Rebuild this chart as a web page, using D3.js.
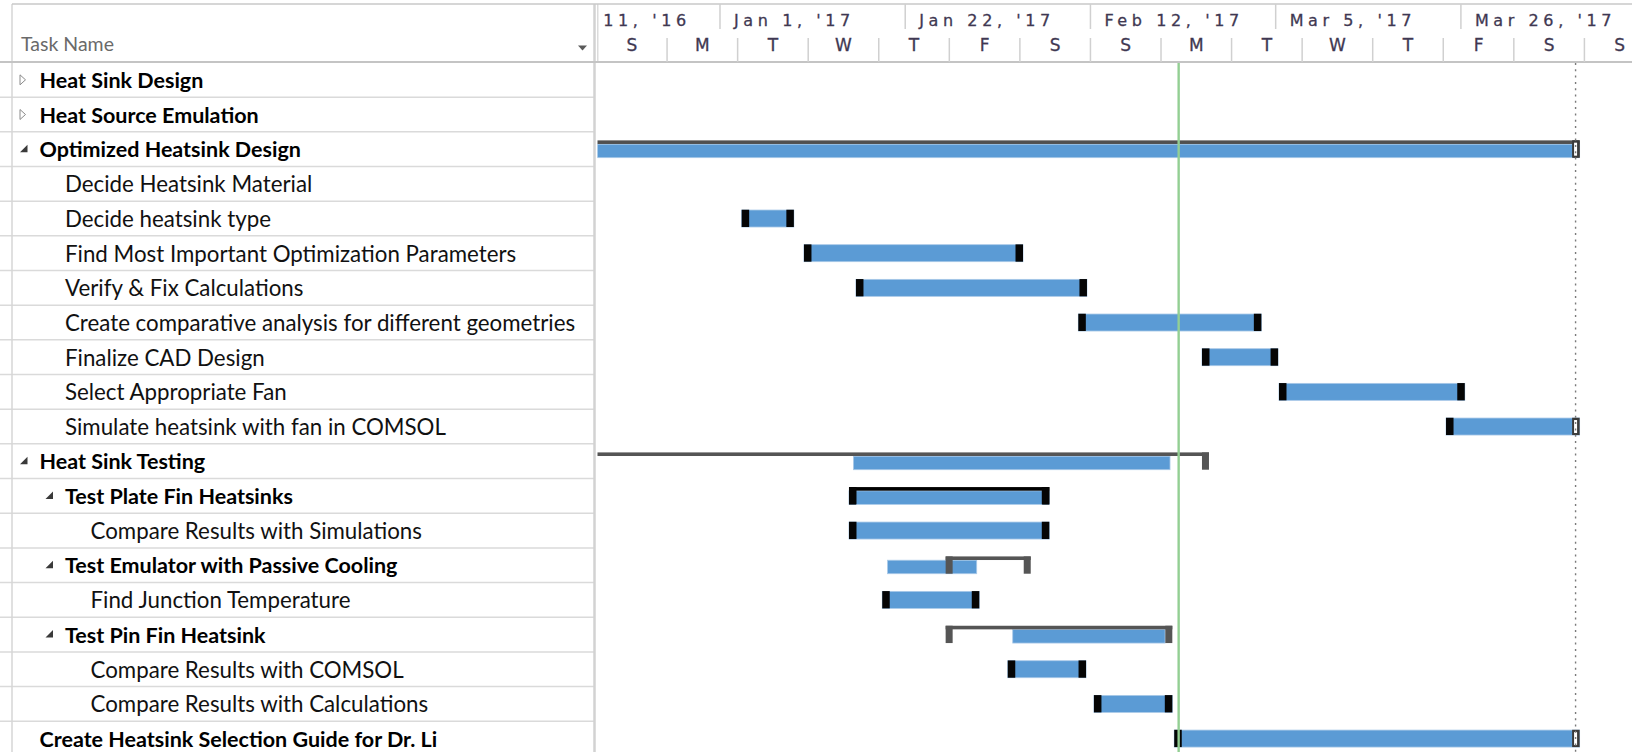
<!DOCTYPE html>
<html>
<head>
<meta charset="utf-8">
<script src="https://cdn.jsdelivr.net/npm/d3@7"></script>
<style>
	body {margin: 0; background: #fff; overflow: hidden;}
	svg {display: block;}
	.task {font-family: Lato, "Noto Sans", sans-serif; font-size: 22.3px; fill: #111;}
	.task.bold {font-size: 21.5px; font-weight: 700; fill: #000;}
	.tier {font-family: "DejaVu Sans", Verdana, sans-serif; font-size: 16px; fill: #3f3852;
		stroke: #3f3852; stroke-width: 0.3px;}
</style>
</head>
<body>
<svg width="1632" height="752"></svg>
<script>
'use strict';
// DOM references and layout globals
let eSvg = d3.select("svg"),
	dWidth = +eSvg.attr("width"),
	dHeight = +eSvg.attr("height")

let dRowTop = 62.5, dRowH = 34.67, dTableW = 594.5

// task table
const taskNames = [
	"Heat Sink Design",
	"Heat Source Emulation",
	"Optimized Heatsink Design",
	"Decide Heatsink Material",
	"Decide heatsink type",
	"Find Most Important Optimization Parameters",
	"Verify & Fix Calculations",
	"Create comparative analysis for different geometries",
	"Finalize CAD Design",
	"Select Appropriate Fan",
	"Simulate heatsink with fan in COMSOL",
	"Heat Sink Testing",
	"Test Plate Fin Heatsinks",
	"Compare Results with Simulations",
	"Test Emulator with Passive Cooling",
	"Find Junction Temperature",
	"Test Pin Fin Heatsink",
	"Compare Results with COMSOL",
	"Compare Results with Calculations",
	"Create Heatsink Selection Guide for Dr. Li"]
const taskLevels = [0,0,0,1,1,1,1,1,1,1,1,0,1,2,1,2,1,2,2,0]
const taskBold = [1,1,1,0,0,0,0,0,0,0,0,1,1,0,1,0,1,0,0,1]
// c = collapsed, e = expanded, "" = leaf
const taskToggle = ["c","c","e","","","","","","","","","e","e","","e","","e","","",""]
const taskSummary = [1,1,1,0,0,0,0,0,0,0,0,1,1,0,1,0,1,0,0,0]

// blue bars
const barStart = [null, null, "2016-12-12 00:00", null, "2017-01-03 11:00", "2017-01-10 12:30",
	"2017-01-16 10:00", "2017-02-10 15:00", "2017-02-24 15:30", "2017-03-05 09:00", "2017-03-24 07:30",
	"2017-01-16 03:00", "2017-01-15 15:00", "2017-01-15 15:00", "2017-01-20 00:00", "2017-01-19 09:30",
	"2017-02-03 04:30", "2017-02-02 15:00", "2017-02-12 09:30", "2017-02-21 12:00"]
const barFinish = [null, null, "2017-04-08 11:00", null, "2017-01-09 09:00", "2017-02-04 08:30",
	"2017-02-11 14:30", "2017-03-03 09:00", "2017-03-05 06:30", "2017-03-26 10:30", "2017-04-08 11:00",
	"2017-02-21 00:30", "2017-02-07 08:00", "2017-02-07 08:00", "2017-01-30 02:30", "2017-01-30 09:30",
	"2017-02-20 11:00", "2017-02-11 12:00", "2017-02-21 06:45", "2017-04-08 11:00"]
// end shapes: b = black, h = hollow (at finish line), "" = none
const capStart = ["","","","","b","b","b","b","b","b","b","","b","b","","b","","b","b","b"]
const capEnd = ["","","h","","b","b","b","b","b","b","h","","b","b","","b","","b","b","h"]

// summary brackets
const bracketStart = [null, null, "2016-12-12 00:00", null, null, null, null, null, null, null, null,
	"2016-12-12 00:00", "2017-01-15 15:00", null, "2017-01-26 14:00", null, "2017-01-26 14:00", null, null, null]
const bracketFinish = [null, null, "2017-04-08 11:00", null, null, null, null, null, null, null, null,
	"2017-02-25 10:30", "2017-02-07 08:00", null, "2017-02-05 05:30", null, "2017-02-21 06:45", null, null, null]
const bracketColor = [null, null, "#505050", null, null, null, null, null, null, null, null,
	"#555555", "#000000", null, "#555555", null, "#555555", null, null, null]

// timescale
const topTierDates = ["2016-12-11", "2017-01-01", "2017-01-22", "2017-02-12", "2017-03-05", "2017-03-26"]
const bottomTierDates = ["2016-12-18", "2016-12-26", "2017-01-03", "2017-01-11", "2017-01-19", "2017-01-27",
	"2017-02-04", "2017-02-12", "2017-02-20", "2017-02-28", "2017-03-08", "2017-03-16", "2017-03-24",
	"2017-04-01", "2017-04-09"]
const bottomTierLabels = ["S","M","T","W","T","F","S","S","M","T","W","T","F","S","S"]
const todayDate = "2017-02-22 00:00"
const finishDate = "2017-04-08 00:00"

let pTime = d3.timeParse("%Y-%m-%d %H:%M")
let pDay = d3.timeParse("%Y-%m-%d")
let fTop = d3.timeFormat("%b %-d, '%y")

let xScale = d3.scaleTime()
	.domain([pDay("2016-12-18"), pDay("2017-04-14")])
	.range([596.5, 1628.5])

function rowMid(i) {return dRowTop + (i + 0.5) * dRowH}

let tRows = taskNames.map((n, i) => {return {i: i, name: n}})

eSvg.append("rect").attr("width", dWidth).attr("height", dHeight).attr("fill", "#fff")

eSvg.append("defs").append("clipPath").attr("id", "chartClip")
	.append("rect").attr("x", 597.5).attr("y", 0).attr("width", dWidth - 597.5).attr("height", dHeight)

// ---- table grid
let eGrid = eSvg.append("g").attr("class", "grid")
eGrid.selectAll("line.row")
	.data(d3.range(1, taskNames.length + 1))
	.enter().append("line")
	.attr("class", "row")
	.attr("x1", 0).attr("x2", dTableW)
	.attr("y1", d => {return dRowTop + d * dRowH})
	.attr("y2", d => {return dRowTop + d * dRowH})
	.attr("stroke", "#dadada").attr("stroke-width", 1.5)

eGrid.append("line").attr("x1", 12).attr("x2", 12).attr("y1", 4).attr("y2", dHeight)
	.attr("stroke", "#d6d6d6").attr("stroke-width", 1.5)
eGrid.append("line").attr("x1", dTableW).attr("x2", dTableW).attr("y1", 4).attr("y2", dHeight)
	.attr("stroke", "#d2d2d2").attr("stroke-width", 2.5)
eGrid.append("line").attr("x1", 597.8).attr("x2", 597.8).attr("y1", 4).attr("y2", 62)
	.attr("stroke", "#d2d2d2").attr("stroke-width", 1.2)
eGrid.append("line").attr("x1", 12).attr("x2", dWidth).attr("y1", 4).attr("y2", 4)
	.attr("stroke", "#c8c8c8").attr("stroke-width", 1.5)
eGrid.append("line").attr("x1", 0).attr("x2", dWidth).attr("y1", 62).attr("y2", 62)
	.attr("stroke", "#c4c4c4").attr("stroke-width", 2)

// ---- table header
eSvg.append("text").attr("x", 21).attr("y", 43)
	.attr("dominant-baseline", "central")
	.style("font-family", "Lato, sans-serif").style("font-size", "19.5px").attr("fill", "#6a6a6a")
	.text("Task Name")
eSvg.append("path").attr("d", "M578,45.5 L587,45.5 L582.5,50.5 Z").attr("fill", "#5a5a5a")

// ---- task names
function textX(d) {return 39.5 + taskLevels[d.i] * 25.5}

let eTasks = eSvg.append("g").attr("class", "tasks")
eTasks.selectAll("text")
	.data(tRows)
	.enter().append("text")
	.attr("class", d => {return taskBold[d.i] ? "task bold" : "task"})
	.attr("x", textX)
	.attr("y", d => {return rowMid(d.i)})
	.attr("dominant-baseline", "central")
	.text(d => {return d.name})

// outline toggles
eTasks.selectAll("path")
	.data(tRows.filter(d => {return taskToggle[d.i] !== ""}))
	.enter().append("path")
	.attr("d", d => {
		let x = textX(d) - 19.5, y = rowMid(d.i)
		if (taskToggle[d.i] === "c")
			return `M${x},${y-5} L${x+5.5},${y} L${x},${y+5} Z`
		return `M${x+7.5},${y-4.5} L${x+7.5},${y+3} L${x},${y+3} Z`})
	.attr("fill", d => {return taskToggle[d.i] === "c" ? "#fff" : "#3a3a3a"})
	.attr("stroke", d => {return taskToggle[d.i] === "c" ? "#8a8a8a" : "none"})
	.attr("stroke-width", 1)

// ---- timescale header
let eHead = eSvg.append("g").attr("clip-path", "url(#chartClip)")
eHead.selectAll("line.top")
	.data(topTierDates)
	.enter().append("line")
	.attr("class", "top")
	.attr("x1", d => {return xScale(pDay(d))}).attr("x2", d => {return xScale(pDay(d))})
	.attr("y1", 4).attr("y2", 29)
	.attr("stroke", "#d0d0d0").attr("stroke-width", 1.5)
eHead.selectAll("text.top")
	.data(topTierDates)
	.enter().append("text")
	.attr("class", "tier top")
	.attr("x", d => {return xScale(pDay(d)) + 14})
	.attr("y", 20)
	.attr("dominant-baseline", "central")
	.style("letter-spacing", "4.6px")
	.text(d => {return fTop(pDay(d))})

eHead.selectAll("line.bot")
	.data(bottomTierDates.slice(1))
	.enter().append("line")
	.attr("class", "bot")
	.attr("x1", d => {return xScale(pDay(d))}).attr("x2", d => {return xScale(pDay(d))})
	.attr("y1", 38).attr("y2", 62)
	.attr("stroke", "#d0d0d0").attr("stroke-width", 1.5)
eHead.selectAll("text.bot")
	.data(bottomTierDates)
	.enter().append("text")
	.attr("class", "tier bot")
	.attr("x", d => {return (xScale(pDay(d)) + xScale(d3.timeDay.offset(pDay(d), 8))) / 2})
	.attr("y", 45)
	.attr("text-anchor", "middle")
	.attr("dominant-baseline", "central")
	.style("font-size", "17px")
	.text((d, i) => {return bottomTierLabels[i]})

// ---- gantt bars
let eChart = eSvg.append("g").attr("clip-path", "url(#chartClip)")
let tBars = tRows.filter(d => {return barStart[d.i] !== null})
let tBrackets = tRows.filter(d => {return bracketStart[d.i] !== null})

eChart.selectAll("rect.bar")
	.data(tBars)
	.enter().append("rect")
	.attr("class", "bar")
	.attr("x", d => {return xScale(pTime(barStart[d.i]))})
	.attr("width", d => {return xScale(pTime(barFinish[d.i])) - xScale(pTime(barStart[d.i]))})
	.attr("y", d => {return rowMid(d.i) - (taskSummary[d.i] ? 5 : 8.5)})
	.attr("height", d => {return taskSummary[d.i] ? 13.5 : 17})
	.attr("fill", "#5b9bd5")
	.attr("stroke", "#a9c9e8").attr("stroke-width", 0.8)

// summary brackets: top line + end ticks
let eBr = eChart.selectAll("g.bracket")
	.data(tBrackets)
	.enter().append("g")
	.attr("class", "bracket")
	.attr("fill", d => {return bracketColor[d.i]})
eBr.append("rect")
	.attr("x", d => {return xScale(pTime(bracketStart[d.i]))})
	.attr("width", d => {return xScale(pTime(bracketFinish[d.i])) - xScale(pTime(bracketStart[d.i]))})
	.attr("y", d => {return rowMid(d.i) - 8.8})
	.attr("height", 3.6)
eBr.append("rect")
	.attr("x", d => {return xScale(pTime(bracketStart[d.i]))})
	.attr("width", 7)
	.attr("y", d => {return rowMid(d.i) - 8.8})
	.attr("height", 17.3)
eBr.append("rect")
	.attr("x", d => {return xScale(pTime(bracketFinish[d.i])) - 7})
	.attr("width", 7)
	.attr("y", d => {return rowMid(d.i) - 8.8})
	.attr("height", 17.3)

// end shapes
let tCaps = []
tBars.forEach(d => {
	if (capStart[d.i]) tCaps.push({i: d.i, x: xScale(pTime(barStart[d.i])), kind: capStart[d.i], side: 0})
	if (capEnd[d.i]) tCaps.push({i: d.i, x: xScale(pTime(barFinish[d.i])), kind: capEnd[d.i], side: 1})})

eChart.selectAll("rect.cap")
	.data(tCaps)
	.enter().append("rect")
	.attr("class", "cap")
	.attr("x", d => {return d.side ? d.x - 7.5 : d.x})
	.attr("width", 7.5)
	.attr("y", d => {return rowMid(d.i) - 8.8})
	.attr("height", 17.3)
	.attr("fill", d => {return d.kind === "h" ? "#3a3a3a" : "#050505"})

// hollow centres where the finish line runs through
let dFinX = xScale(pTime(finishDate))
eChart.selectAll("rect.hollow")
	.data(tCaps.filter(d => {return d.kind === "h"}))
	.enter().append("rect")
	.attr("class", "hollow")
	.attr("x", dFinX - 1.5)
	.attr("width", 3)
	.attr("y", d => {return rowMid(d.i) - 6.5})
	.attr("height", 13)
	.attr("fill", "#fff")

// finish (dotted) and status date (green) lines
eChart.append("line")
	.attr("x1", dFinX).attr("x2", dFinX)
	.attr("y1", 63).attr("y2", dHeight)
	.attr("stroke", "#7a7a7a").attr("stroke-width", 1.4)
	.attr("stroke-dasharray", "2,4.3")

let dTodayX = xScale(pTime(todayDate))
eChart.append("line")
	.attr("x1", dTodayX).attr("x2", dTodayX)
	.attr("y1", 63).attr("y2", dHeight)
	.attr("stroke", "#93cf93").attr("stroke-width", 2.4)
</script>
</body>
</html>
